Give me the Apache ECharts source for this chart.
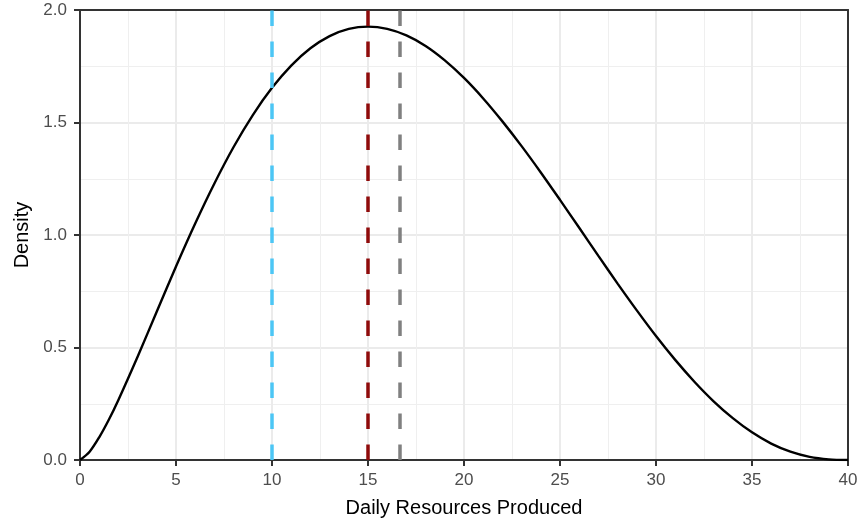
<!DOCTYPE html>
<html>
<head>
<meta charset="utf-8">
<script src="https://cdn.jsdelivr.net/npm/echarts@6/dist/echarts.min.js"></script>
<style>
  html, body { margin: 0; padding: 0; background: #ffffff; }
  #chart { width: 862px; height: 522px; }
</style>
</head>
<body>
<div id="chart"></div>
<script>
// Daily resources produced (x) and the density of the distribution (y)
const resources = [0, 0.5, 1, 1.5, 2, 3, 4, 5, 6, 7, 8, 9, 10, 11, 12, 13, 14, 15, 16, 17, 18, 19, 20,
  21, 22, 23, 24, 25, 26, 27, 28, 29, 30, 31, 32, 33, 34, 35, 36, 37, 38, 39, 40];
const density = [0, 0.037, 0.101, 0.179, 0.267, 0.459, 0.660, 0.860, 1.051, 1.229, 1.391, 1.533, 1.654,
  1.753, 1.830, 1.884, 1.916, 1.926, 1.916, 1.887, 1.840, 1.776, 1.698,
  1.607, 1.505, 1.395, 1.278, 1.156, 1.032, 0.907, 0.784, 0.665, 0.551,
  0.445, 0.348, 0.261, 0.186, 0.123, 0.073, 0.037, 0.014, 0.003, 0];

// Reference lines: low value, mode, mean
const refValues = [10, 15, 16.67];
const refColors = ['#4cc6f5', '#8f0b0b', '#808080'];

// Axis ticks
const xTicks = [0, 5, 10, 15, 20, 25, 30, 35, 40];
const yTicks = [0.0, 0.5, 1.0, 1.5, 2.0];

const curve = resources.map((x, i) => [x, density[i]]);

const chart = echarts.init(document.getElementById('chart'), null, { renderer: 'canvas' });

const fontStack = '"Liberation Sans", Arial, sans-serif';
const axisText = { color: '#4d4d4d', fontSize: 17, fontFamily: fontStack };
const titleText = { color: '#000000', fontSize: 20, fontFamily: fontStack };
const frameLine = { show: true, onZero: false, lineStyle: { color: '#333333', width: 2 } };

const refSeries = refValues.map((v, i) => ({
  type: 'line',
  data: [],
  silent: true,
  markLine: {
    silent: true,
    symbol: ['none', 'none'],
    label: { show: false },
    animation: false,
    lineStyle: { color: refColors[i], width: 3.5, type: [15.5, 15.5], opacity: 1 },
    emphasis: { disabled: true },
    data: [{ xAxis: v }]
  }
}));

// Plain axis used only to draw the top / right edges of the panel frame
const frameAxis = (pos) => ({
  type: 'value', position: pos,
  min: 0, max: 1,
  axisLine: frameLine,
  axisTick: { show: false },
  axisLabel: { show: false },
  splitLine: { show: false }
});

chart.setOption({
  animation: false,
  backgroundColor: '#ffffff',
  grid: {
    left: 80, right: 14, top: 10, bottom: 62,
    outerBoundsMode: 'none',
    containLabel: false,
    show: false
  },
  xAxis: [{
    type: 'value',
    min: xTicks[0], max: xTicks[xTicks.length - 1], interval: 5,
    name: 'Daily Resources Produced',
    nameLocation: 'middle', nameGap: 38,
    nameTextStyle: titleText,
    axisLine: frameLine,
    axisTick: { show: true, length: 6, lineStyle: { color: '#333333', width: 2 } },
    axisLabel: Object.assign({ margin: 12, formatter: v => String(v) }, axisText),
    splitLine: { show: true, lineStyle: { color: '#ebebeb', width: 2 } },
    minorTick: { show: false, splitNumber: 2 },
    minorSplitLine: { show: true, lineStyle: { color: '#efefef', width: 1 } }
  }, frameAxis('top')],
  yAxis: [{
    type: 'value',
    min: yTicks[0], max: yTicks[yTicks.length - 1], interval: 0.5,
    name: 'Density',
    nameLocation: 'middle', nameGap: 48,
    nameTextStyle: titleText,
    axisLine: frameLine,
    axisTick: { show: true, length: 6, lineStyle: { color: '#333333', width: 2 } },
    axisLabel: Object.assign({ margin: 13, formatter: v => v.toFixed(1) }, axisText),
    splitLine: { show: true, lineStyle: { color: '#ebebeb', width: 2 } },
    minorTick: { show: false, splitNumber: 2 },
    minorSplitLine: { show: true, lineStyle: { color: '#efefef', width: 1 } }
  }, frameAxis('right')],
  series: [
    {
      type: 'line',
      data: curve,
      smooth: 0.3,
      symbol: 'none',
      silent: true,
      lineStyle: { color: '#000000', width: 2.4 },
      z: 3
    }
  ].concat(refSeries)
});
</script>
</body>
</html>
